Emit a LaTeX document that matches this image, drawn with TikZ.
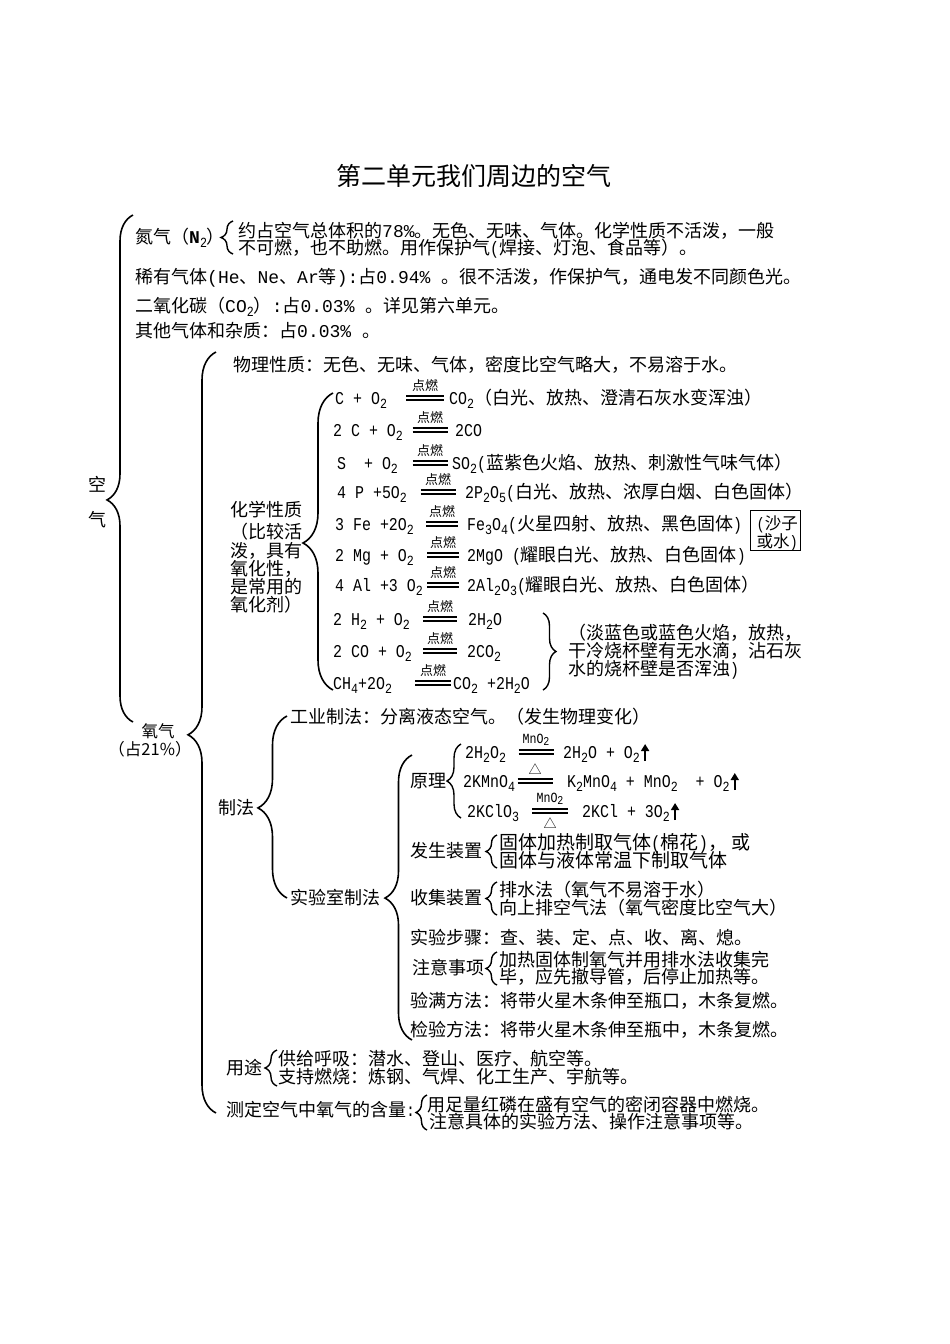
\documentclass[tikz,border=0pt]{standalone}
\usepackage{fontspec}
\setmainfont{Noto Sans CJK SC}
\newfontfamily\lmono[FakeStretch=0.83]{Liberation Mono}
\newfontfamily\lmonoB{Liberation Mono}
\usetikzlibrary{decorations.pathreplacing,arrows.meta}
\newcommand\fsA{\fontsize{18}{20}\selectfont}
\newcommand\fsB{\fontsize{19}{21}\selectfont}
\newcommand\fsM{\fontsize{16.5}{18}\selectfont}
\newcommand\fsT{\fontsize{25}{28}\selectfont}
\newcommand\fsS{\fontsize{13}{14}\selectfont}
\newcommand\fsX{\fontsize{16.5}{17}\selectfont}
\newcommand\lt[1]{{\lmono #1}}
\newcommand\ltb[1]{{\lmonoB #1}}
\newcommand\sub[1]{\raisebox{-0.22em}{\lmono\fontsize{14}{14}\selectfont #1}}
\newcommand\mno{{\lmono\fontsize{14}{14}\selectfont MnO\raisebox{-2pt}{\fontsize{12}{12}\selectfont 2}}}
\tikzset{
  t/.style={anchor=west, inner sep=0pt, font=\fsA, text height=0.88em, text depth=0.12em, yshift=-3pt},
  tb/.style={t, font=\fsB},
  brc/.style 2 args={decorate, decoration={brace, amplitude=#1, aspect=#2}, line width=1.6pt},
  sbr/.style={decorate, decoration={brace, amplitude=#1}, line width=1.4pt},
  uarr/.style={line width=2.2pt, -{Triangle[length=7pt,width=8pt]}},
  pics/cond/.style n args={3}{code={
    \draw[line width=1.1pt] (-#1/2,-2) -- (#1/2,-2) (-#1/2,2) -- (#1/2,2);
    \node[inner sep=0pt, font=\fsS] (-up) at (0,-12) {#2};
    \node[inner sep=0pt, font=\fsS] (-dn) at (0,12) {#3};
  }}
}
\begin{document}
\begin{tikzpicture}[x=1pt,y=-1pt]
\fill[white] (0,0) rectangle (950,1344);
\useasboundingbox (0,0) rectangle (950,1344);

% title
\node[font=\fsT, inner sep=0pt] (title) at (474,176) {第二单元我们周边的空气};

% air
\node[t] (kq1) at (88,485) {空};
\node[t] (kq2) at (88,520) {气};
\draw[brc={26}{0.438}] (133,722) -- (133,215);

% nitrogen
\node[t] (n2) at (135,237) {氮气（{\lmonoB\bfseries N}\sub{2}）};
\draw[sbr=12] (233,254) -- (233,221);
\node[t] (n2a) at (238,231) {约占空气总体积的\ltb{78\%}。无色、无味、气体。化学性质不活泼，一般};
\node[t] (n2b) at (238,248) {不可燃，也不助燃。用作保护气\lt{(}焊接、灯泡、食品等）。};
\node[t] (rare) at (135,277) {稀有气体\ltb{(He}、\ltb{Ne}、\ltb{Ar}等\ltb{):}占\ltb{0.94\% }。很不活泼，作保护气，通电发不同颜色光。};
\node[t] (co2) at (135,306) {二氧化碳（\ltb{CO}\sub{2}）\ltb{:}占\ltb{0.03\% }。详见第六单元。};
\node[t] (other) at (135,331) {其他气体和杂质：占\ltb{0.03\% }。};

% oxygen
\node[font=\fsM, inner sep=0pt] (o2) at (158,731) {氧气};
\node[font=\fsM, inner sep=0pt] (o2b) at (150,749) {（占21\%）};
\draw[brc={28}{0.497}] (216,1113) -- (216,352);

\node[t] (phys) at (233,365) {物理性质：无色、无味、气体，密度比空气略大，不易溶于水。};

% chemical properties label
\node[t] (ch1) at (230,510) {化学性质};
\node[t] (ch2) at (230,532) {（比较活};
\node[t] (ch3) at (230,551) {泼，具有};
\node[t] (ch4) at (230,569) {氧化性，};
\node[t] (ch5) at (230,587) {是常用的};
\node[t] (ch6) at (230,605) {氧化剂）};
\draw[brc={30}{0.495}] (333,690) -- (333,393);

% equations
\node[t] (e1l) at (335,398) {\lt{C + O}\sub{2}};
\pic (e1) at (425,398) {cond={38}{点燃}{}};
\node[t] (e1r) at (449,398) {\lt{CO}\sub{2}（白光、放热、澄清石灰水变浑浊）};

\node[t] (e2l) at (333,430) {\lt{2 C + O}\sub{2}};
\pic (e2) at (430,430) {cond={35}{点燃}{}};
\node[t] (e2r) at (455,430) {\lt{2CO}};

\node[t] (e3l) at (337,463) {\lt{S\ \ + O}\sub{2}};
\pic (e3) at (430,463) {cond={35}{点燃}{}};
\node[t] (e3r) at (452,463) {\lt{SO}\sub{2}\lt{(}蓝紫色火焰、放热、刺激性气味气体）};

\node[t] (e4l) at (337,492) {\lt{4 P +5O}\sub{2}};
\pic (e4) at (438,492) {cond={35}{点燃}{}};
\node[t] (e4r) at (465,492) {\lt{2P}\sub{2}\lt{O}\sub{5}\lt{(}白光、放热、浓厚白烟、白色固体）};

\node[t] (e5l) at (335,524) {\lt{3 Fe +2O}\sub{2}};
\pic (e5) at (442,524) {cond={32}{点燃}{}};
\node[t] (e5r) at (467,524) {\lt{Fe}\sub{3}\lt{O}\sub{4}\lt{(}火星四射、放热、黑色固体\lt{)}};
\draw[line width=0.9pt] (750,510) rectangle (800,550);
\node[t, font=\fsX, anchor=east] (box1) at (798,523) {\lt{(}沙子};
\node[t, font=\fsX, anchor=east] (box2) at (798,541) {或水\lt{)}};

\node[t] (e6l) at (335,555) {\lt{2 Mg + O}\sub{2}};
\pic (e6) at (443,555) {cond={32}{点燃}{}};
\node[t] (e6r) at (467,555) {\lt{2MgO (}耀眼白光、放热、白色固体\lt{)}};

\node[t] (e7l) at (335,585) {\lt{4 Al +3 O}\sub{2}};
\pic (e7) at (443,585) {cond={32}{点燃}{}};
\node[t] (e7r) at (467,585) {\lt{2Al}\sub{2}\lt{O}\sub{3}\lt{(}耀眼白光、放热、白色固体）};

\node[t] (e8l) at (333,619) {\lt{2 H}\sub{2}\lt{ + O}\sub{2}};
\pic (e8) at (440,619) {cond={34}{点燃}{}};
\node[t] (e8r) at (468,619) {\lt{2H}\sub{2}\lt{O}};

\node[t] (e9l) at (333,651) {\lt{2 CO + O}\sub{2}};
\pic (e9) at (440,651) {cond={34}{点燃}{}};
\node[t] (e9r) at (467,651) {\lt{2CO}\sub{2}};

\node[t] (e10l) at (333,683) {\lt{CH}\sub{4}\lt{+2O}\sub{2}};
\pic (e10) at (433,683) {cond={36}{点燃}{}};
\node[t] (e10r) at (453,683) {\lt{CO}\sub{2}\lt{ +2H}\sub{2}\lt{O}};

\draw[sbr=13] (543,613) -- (543,690);
\node[t] (fl1) at (568,633) {（淡蓝色或蓝色火焰，放热，};
\node[t] (fl2) at (568,651) {干冷烧杯壁有无水滴，沾石灰};
\node[t] (fl3) at (568,669) {水的烧杯壁是否浑浊\lt{)}};

% preparation
\node[t] (zf) at (218,808) {制法};
\draw[brc={29}{0.495}] (287,898) -- (287,716);
\node[t] (ind) at (290,717) {工业制法：分离液态空气。（发生物理变化）};
\node[t] (lab) at (290,898) {实验室制法};
\draw[brc={27}{0.498}] (412,1040) -- (412,755);

\node[t] (yl) at (410,781) {原理};
\draw[sbr=14] (461,818) -- (461,744);
\node[t] (r1l) at (465,752) {\lt{2H}\sub{2}\lt{O}\sub{2}};
\pic (r1) at (536,752) {cond={35}{\mno}{}};
\node[t] (r1r) at (563,752) {\lt{2H}\sub{2}\lt{O + O}\sub{2}};
\draw[uarr] ([xshift=5pt,yshift=-6pt]r1r.east) -- ([xshift=5pt,yshift=11pt]r1r.east);

\node[t] (r2l) at (463,781) {\lt{2KMnO}\sub{4}};
\pic (r2) at (535,781) {cond={35}{△}{}};
\node[t] (r2r) at (567,781) {\lt{K}\sub{2}\lt{MnO}\sub{4}\lt{ + MnO}\sub{2}\lt{\ \ + O}\sub{2}};
\draw[uarr] ([xshift=5pt,yshift=-6pt]r2r.east) -- ([xshift=5pt,yshift=11pt]r2r.east);

\node[t] (r3l) at (467,811) {\lt{2KClO}\sub{3}};
\pic (r3) at (550,811) {cond={36}{\mno}{△}};
\node[t] (r3r) at (582,811) {\lt{2KCl + 3O}\sub{2}};
\draw[uarr] ([xshift=5pt,yshift=-6pt]r3r.east) -- ([xshift=5pt,yshift=11pt]r3r.east);

\node[t] (fs) at (410,851) {发生装置};
\draw[sbr=11] (497,868) -- (497,835);
\node[tb] (fs1) at (499,843) {固体加热制取气体\lt{(}棉花\lt{)}， 或};
\node[tb] (fs2) at (499,861) {固体与液体常温下制取气体};

\node[t] (sj) at (410,898) {收集装置};
\draw[sbr=11] (497,915) -- (497,882);
\node[t] (sj1) at (499,890) {排水法（氧气不易溶于水）};
\node[t] (sj2) at (499,908) {向上排空气法（氧气密度比空气大）};

\node[t] (steps) at (410,938) {实验步骤：查、装、定、点、收、离、熄。};

\node[t] (zy) at (412,968) {注意事项};
\draw[sbr=11] (497,985) -- (497,952);
\node[t] (zy1) at (499,960) {加热固体制氧气并用排水法收集完};
\node[t] (zy2) at (499,977) {毕，应先撤导管，后停止加热等。};

\node[t] (ym) at (410,1001) {验满方法：将带火星木条伸至瓶口，木条复燃。};
\node[t] (jy) at (410,1030) {检验方法：将带火星木条伸至瓶中，木条复燃。};

% uses
\node[t] (yt) at (226,1068) {用途};
\draw[sbr=12] (277,1086) -- (277,1050);
\node[t] (yt1) at (278,1059) {供给呼吸：潜水、登山、医疗、航空等。};
\node[t] (yt2) at (278,1077) {支持燃烧：炼钢、气焊、化工生产、宇航等。};

% measure
\node[t] (cd) at (226,1110) {测定空气中氧气的含量\lt{:}};
\draw[sbr=11] (427,1130) -- (427,1095);
\node[t] (cd1) at (427,1105) {用足量红磷在盛有空气的密闭容器中燃烧。};
\node[t] (cd2) at (429,1122) {注意具体的实验方法、操作注意事项等。};
\end{tikzpicture}
\end{document}
